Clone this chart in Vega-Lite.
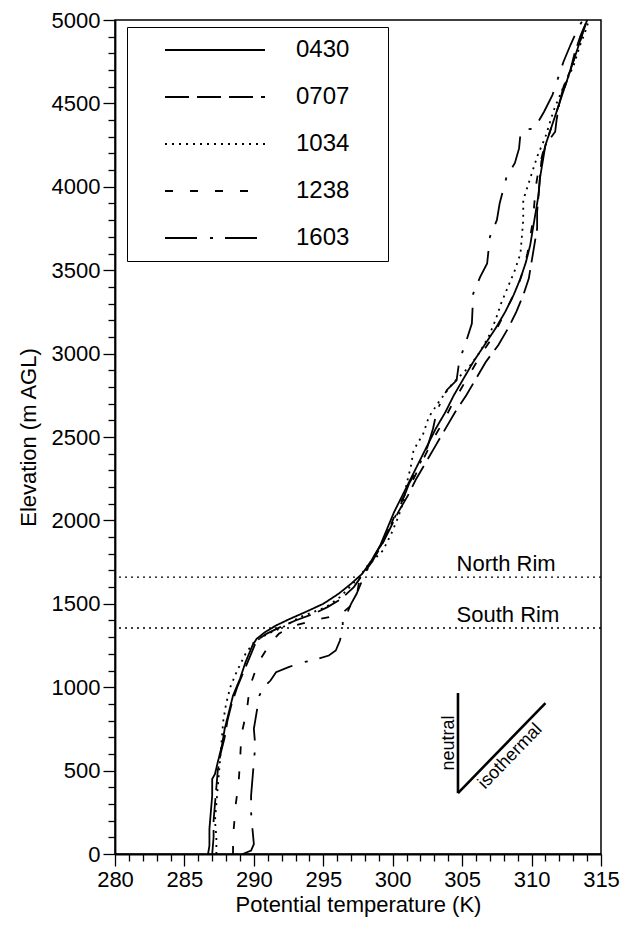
{
  "$schema": "https://vega.github.io/schema/vega-lite/v6.json",
  "width": 486,
  "height": 834,
  "autosize": {"type": "none"},
  "padding": {"left": 115, "top": 20, "right": 28, "bottom": 72},
  "background": "white",
  "config": {
    "view": {"stroke": "black", "strokeWidth": 1.5},
    "font": "Liberation Sans",
    "axis": {"domainColor": "black", "domainWidth": 1.8, "tickColor": "black", "tickWidth": 1.3, "labelColor": "black", "labelFontSize": 22, "titleFontSize": 22, "titleColor": "black", "titleFontWeight": "normal", "labelFont": "Liberation Sans", "titleFont": "Liberation Sans", "grid": false}
  },
  "datasets": {
    "profiles": [
      {"time":"0430","z":0,"T":286.7},{"time":"0430","z":50,"T":286.8},{"time":"0430","z":150,"T":286.8},{"time":"0430","z":250,"T":286.9},{"time":"0430","z":350,"T":287.0},{"time":"0430","z":450,"T":287.0},{"time":"0430","z":480,"T":287.2},{"time":"0430","z":550,"T":287.4},{"time":"0430","z":650,"T":287.7},{"time":"0430","z":750,"T":287.9},{"time":"0430","z":850,"T":288.2},{"time":"0430","z":950,"T":288.5},{"time":"0430","z":1050,"T":289.0},{"time":"0430","z":1150,"T":289.4},{"time":"0430","z":1250,"T":289.9},{"time":"0430","z":1290,"T":290.2},{"time":"0430","z":1330,"T":290.8},{"time":"0430","z":1370,"T":291.6},{"time":"0430","z":1410,"T":292.6},{"time":"0430","z":1450,"T":293.7},{"time":"0430","z":1500,"T":295.0},{"time":"0430","z":1560,"T":296.1},{"time":"0430","z":1620,"T":297.0},{"time":"0430","z":1680,"T":297.8},{"time":"0430","z":1750,"T":298.4},{"time":"0430","z":1850,"T":299.1},{"time":"0430","z":1950,"T":299.6},{"time":"0430","z":2050,"T":300.1},{"time":"0430","z":2150,"T":300.7},{"time":"0430","z":2250,"T":301.3},{"time":"0430","z":2350,"T":301.9},{"time":"0430","z":2450,"T":302.5},{"time":"0430","z":2550,"T":303.1},{"time":"0430","z":2650,"T":303.8},{"time":"0430","z":2750,"T":304.4},{"time":"0430","z":2850,"T":305.1},{"time":"0430","z":2950,"T":305.8},{"time":"0430","z":3050,"T":306.6},{"time":"0430","z":3150,"T":307.4},{"time":"0430","z":3250,"T":308.1},{"time":"0430","z":3350,"T":308.7},{"time":"0430","z":3450,"T":309.2},{"time":"0430","z":3550,"T":309.6},{"time":"0430","z":3650,"T":309.9},{"time":"0430","z":3750,"T":310.1},{"time":"0430","z":3850,"T":310.3},{"time":"0430","z":3950,"T":310.5},{"time":"0430","z":4050,"T":310.6},{"time":"0430","z":4150,"T":310.8},{"time":"0430","z":4250,"T":311.0},{"time":"0430","z":4350,"T":311.4},{"time":"0430","z":4450,"T":311.8},{"time":"0430","z":4550,"T":312.2},{"time":"0430","z":4650,"T":312.6},{"time":"0430","z":4750,"T":313.0},{"time":"0430","z":4850,"T":313.4},{"time":"0430","z":4950,"T":313.8},{"time":"0430","z":5000,"T":314.0},
      {"time":"0707","z":0,"T":287.0},{"time":"0707","z":100,"T":287.1},{"time":"0707","z":200,"T":287.1},{"time":"0707","z":300,"T":287.2},{"time":"0707","z":400,"T":287.3},{"time":"0707","z":500,"T":287.4},{"time":"0707","z":600,"T":287.6},{"time":"0707","z":700,"T":287.9},{"time":"0707","z":800,"T":288.1},{"time":"0707","z":900,"T":288.4},{"time":"0707","z":1000,"T":288.8},{"time":"0707","z":1100,"T":289.3},{"time":"0707","z":1200,"T":289.8},{"time":"0707","z":1280,"T":290.2},{"time":"0707","z":1320,"T":290.9},{"time":"0707","z":1360,"T":291.9},{"time":"0707","z":1400,"T":293.0},{"time":"0707","z":1440,"T":294.3},{"time":"0707","z":1480,"T":295.3},{"time":"0707","z":1530,"T":296.3},{"time":"0707","z":1600,"T":297.2},{"time":"0707","z":1660,"T":297.7},{"time":"0707","z":1750,"T":298.5},{"time":"0707","z":1850,"T":299.2},{"time":"0707","z":1950,"T":299.8},{"time":"0707","z":2050,"T":300.4},{"time":"0707","z":2150,"T":301.1},{"time":"0707","z":2250,"T":301.7},{"time":"0707","z":2350,"T":302.4},{"time":"0707","z":2450,"T":303.1},{"time":"0707","z":2550,"T":303.8},{"time":"0707","z":2650,"T":304.5},{"time":"0707","z":2750,"T":305.3},{"time":"0707","z":2850,"T":306.0},{"time":"0707","z":2950,"T":306.7},{"time":"0707","z":3050,"T":307.6},{"time":"0707","z":3150,"T":308.3},{"time":"0707","z":3250,"T":308.9},{"time":"0707","z":3350,"T":309.4},{"time":"0707","z":3450,"T":309.8},{"time":"0707","z":3550,"T":310.0},{"time":"0707","z":3650,"T":310.2},{"time":"0707","z":3750,"T":310.4},{"time":"0707","z":3850,"T":310.4},{"time":"0707","z":3950,"T":310.5},{"time":"0707","z":4050,"T":310.6},{"time":"0707","z":4150,"T":310.7},{"time":"0707","z":4250,"T":311.0},{"time":"0707","z":4330,"T":311.7},{"time":"0707","z":4400,"T":311.8},{"time":"0707","z":4500,"T":312.0},{"time":"0707","z":4600,"T":312.3},{"time":"0707","z":4700,"T":312.8},{"time":"0707","z":4800,"T":313.1},{"time":"0707","z":4900,"T":313.5},{"time":"0707","z":5000,"T":314.0},
      {"time":"1034","z":0,"T":287.3},{"time":"1034","z":100,"T":287.3},{"time":"1034","z":200,"T":287.2},{"time":"1034","z":300,"T":287.3},{"time":"1034","z":400,"T":287.4},{"time":"1034","z":500,"T":287.5},{"time":"1034","z":600,"T":287.6},{"time":"1034","z":700,"T":287.7},{"time":"1034","z":800,"T":287.8},{"time":"1034","z":900,"T":288.0},{"time":"1034","z":1000,"T":288.3},{"time":"1034","z":1100,"T":288.8},{"time":"1034","z":1200,"T":289.4},{"time":"1034","z":1270,"T":290.0},{"time":"1034","z":1320,"T":291.0},{"time":"1034","z":1360,"T":292.1},{"time":"1034","z":1420,"T":293.3},{"time":"1034","z":1480,"T":295.2},{"time":"1034","z":1540,"T":296.2},{"time":"1034","z":1600,"T":296.9},{"time":"1034","z":1660,"T":297.6},{"time":"1034","z":1720,"T":298.1},{"time":"1034","z":1820,"T":299.3},{"time":"1034","z":1920,"T":299.9},{"time":"1034","z":2020,"T":300.4},{"time":"1034","z":2120,"T":300.8},{"time":"1034","z":2220,"T":301.0},{"time":"1034","z":2320,"T":301.3},{"time":"1034","z":2420,"T":301.5},{"time":"1034","z":2520,"T":302.2},{"time":"1034","z":2620,"T":302.6},{"time":"1034","z":2720,"T":303.4},{"time":"1034","z":2820,"T":304.3},{"time":"1034","z":2920,"T":305.5},{"time":"1034","z":3000,"T":306.2},{"time":"1034","z":3100,"T":306.9},{"time":"1034","z":3200,"T":307.4},{"time":"1034","z":3300,"T":307.8},{"time":"1034","z":3400,"T":308.3},{"time":"1034","z":3500,"T":308.8},{"time":"1034","z":3600,"T":309.2},{"time":"1034","z":3700,"T":309.3},{"time":"1034","z":3800,"T":309.4},{"time":"1034","z":3920,"T":309.4},{"time":"1034","z":4050,"T":309.9},{"time":"1034","z":4180,"T":310.4},{"time":"1034","z":4300,"T":311.0},{"time":"1034","z":4460,"T":311.6},{"time":"1034","z":4600,"T":312.3},{"time":"1034","z":4720,"T":313.0},{"time":"1034","z":4850,"T":313.5},{"time":"1034","z":4960,"T":314.0},{"time":"1034","z":5000,"T":314.1},
      {"time":"1238","z":0,"T":288.5},{"time":"1238","z":100,"T":288.5},{"time":"1238","z":200,"T":288.6},{"time":"1238","z":300,"T":288.7},{"time":"1238","z":425,"T":288.9},{"time":"1238","z":550,"T":289.0},{"time":"1238","z":714,"T":289.1},{"time":"1238","z":864,"T":289.5},{"time":"1238","z":1000,"T":289.7},{"time":"1238","z":1145,"T":290.3},{"time":"1238","z":1265,"T":291.2},{"time":"1238","z":1320,"T":291.8},{"time":"1238","z":1361,"T":292.6},{"time":"1238","z":1403,"T":294.4},{"time":"1238","z":1433,"T":296.2},{"time":"1238","z":1490,"T":297.0},{"time":"1238","z":1541,"T":297.4},{"time":"1238","z":1643,"T":297.6},{"time":"1238","z":1700,"T":298.0},{"time":"1238","z":1800,"T":298.8},{"time":"1238","z":1900,"T":299.5},{"time":"1238","z":2000,"T":300.0},{"time":"1238","z":2100,"T":300.5},{"time":"1238","z":2200,"T":301.2},{"time":"1238","z":2300,"T":301.8},{"time":"1238","z":2400,"T":302.4},{"time":"1238","z":2500,"T":303.0},{"time":"1238","z":2600,"T":303.7},{"time":"1238","z":2700,"T":304.3},{"time":"1238","z":2800,"T":305.0},{"time":"1238","z":2900,"T":305.7},{"time":"1238","z":3000,"T":306.4},{"time":"1238","z":3100,"T":307.2},{"time":"1238","z":3200,"T":307.8},{"time":"1238","z":3300,"T":308.4},{"time":"1238","z":3400,"T":309.0},{"time":"1238","z":3500,"T":309.4},{"time":"1238","z":3600,"T":309.7},{"time":"1238","z":3700,"T":309.9},{"time":"1238","z":3800,"T":310.1},{"time":"1238","z":3900,"T":310.2},{"time":"1238","z":4000,"T":310.3},{"time":"1238","z":4100,"T":310.5},{"time":"1238","z":4200,"T":310.8},{"time":"1238","z":4300,"T":311.2},{"time":"1238","z":4400,"T":311.6},{"time":"1238","z":4500,"T":312.0},{"time":"1238","z":4600,"T":312.4},{"time":"1238","z":4700,"T":312.8},{"time":"1238","z":4800,"T":313.2},{"time":"1238","z":4900,"T":313.6},{"time":"1238","z":5000,"T":313.9},
      {"time":"1603","z":0,"T":289.2},{"time":"1603","z":20,"T":289.8},{"time":"1603","z":60,"T":290.0},{"time":"1603","z":150,"T":289.9},{"time":"1603","z":250,"T":289.8},{"time":"1603","z":350,"T":289.8},{"time":"1603","z":450,"T":289.9},{"time":"1603","z":550,"T":290.0},{"time":"1603","z":650,"T":290.1},{"time":"1603","z":750,"T":290.0},{"time":"1603","z":850,"T":290.2},{"time":"1603","z":950,"T":290.4},{"time":"1603","z":1000,"T":290.7},{"time":"1603","z":1040,"T":291.2},{"time":"1603","z":1090,"T":291.6},{"time":"1603","z":1120,"T":292.5},{"time":"1603","z":1145,"T":293.3},{"time":"1603","z":1165,"T":294.4},{"time":"1603","z":1190,"T":295.4},{"time":"1603","z":1220,"T":295.9},{"time":"1603","z":1280,"T":296.2},{"time":"1603","z":1350,"T":296.4},{"time":"1603","z":1400,"T":296.4},{"time":"1603","z":1440,"T":296.7},{"time":"1603","z":1500,"T":297.0},{"time":"1603","z":1560,"T":297.4},{"time":"1603","z":1660,"T":297.9},{"time":"1603","z":1760,"T":298.5},{"time":"1603","z":1860,"T":299.2},{"time":"1603","z":1960,"T":299.8},{"time":"1603","z":2060,"T":300.4},{"time":"1603","z":2160,"T":300.9},{"time":"1603","z":2224,"T":301.2},{"time":"1603","z":2330,"T":301.9},{"time":"1603","z":2440,"T":302.5},{"time":"1603","z":2550,"T":302.9},{"time":"1603","z":2662,"T":303.2},{"time":"1603","z":2782,"T":303.9},{"time":"1603","z":2840,"T":304.6},{"time":"1603","z":2960,"T":304.8},{"time":"1603","z":3050,"T":305.2},{"time":"1603","z":3180,"T":305.7},{"time":"1603","z":3360,"T":305.8},{"time":"1603","z":3460,"T":306.3},{"time":"1603","z":3540,"T":306.8},{"time":"1603","z":3700,"T":307.0},{"time":"1603","z":3800,"T":307.5},{"time":"1603","z":3900,"T":307.7},{"time":"1603","z":4060,"T":308.2},{"time":"1603","z":4143,"T":308.8},{"time":"1603","z":4230,"T":309.1},{"time":"1603","z":4320,"T":309.2},{"time":"1603","z":4341,"T":309.4},{"time":"1603","z":4350,"T":310.2},{"time":"1603","z":4450,"T":310.9},{"time":"1603","z":4550,"T":311.5},{"time":"1603","z":4650,"T":311.9},{"time":"1603","z":4750,"T":312.3},{"time":"1603","z":4850,"T":312.8},{"time":"1603","z":4960,"T":313.4},{"time":"1603","z":5000,"T":313.7}
    ],
    "rims": [{"name": "North Rim", "z": 1660}, {"name": "South Rim", "z": 1355}],
    "guides": [
      {"label": "neutral", "T": 304.7, "z": 365, "T2": 304.7, "z2": 965},
      {"label": "isothermal", "T": 304.7, "z": 365, "T2": 311.0, "z2": 905}
    ]
  },
  "layer": [
    {
      "data": {"name": "profiles"},
      "mark": {"type": "line", "color": "black", "strokeWidth": 1.8},
      "encoding": {
        "x": {"field": "T", "type": "quantitative",
          "scale": {"domain": [280, 315], "nice": false, "zero": false},
          "axis": {"title": "Potential temperature (K)", "format": "d", "tickCount": 200,
            "values": [280,281,282,283,284,285,286,287,288,289,290,291,292,293,294,295,296,297,298,299,300,301,302,303,304,305,306,307,308,309,310,311,312,313,314,315],
            "labelExpr": "datum.value % 5 === 0 ? datum.label : ''",
            "tickSize": {"condition": {"test": "datum.value % 5 === 0", "value": 12}, "value": 7},
            "labelPadding": 3, "labelOverlap": false, "labelFlush": false, "titlePadding": 4}},
        "y": {"field": "z", "type": "quantitative",
          "scale": {"domain": [0, 5000], "nice": false},
          "axis": {"title": "Elevation (m AGL)", "format": "d", "tickCount": 200,
            "values": [0,100,200,300,400,500,600,700,800,900,1000,1100,1200,1300,1400,1500,1600,1700,1800,1900,2000,2100,2200,2300,2400,2500,2600,2700,2800,2900,3000,3100,3200,3300,3400,3500,3600,3700,3800,3900,4000,4100,4200,4300,4400,4500,4600,4700,4800,4900,5000],
            "labelExpr": "datum.value % 500 === 0 ? datum.label : ''",
            "tickSize": {"condition": {"test": "datum.value % 500 === 0", "value": 12}, "value": 7},
            "labelPadding": 3, "labelOverlap": false, "labelFlush": false,
            "titleX": -87, "titleBaseline": "middle"}},
        "strokeDash": {"field": "time", "type": "nominal",
          "scale": {"domain": ["0430", "0707", "1034", "1238", "1603"], "range": [[1, 0], [24, 8], [2, 5], [8, 17], [32, 13, 3, 12]]},
          "legend": {"orient": "none", "legendX": 12, "legendY": 7, "title": "\u00a0", "titleOrient": "right", "titlePadding": 28, "titleFontSize": 10,
            "symbolType": "stroke", "symbolSize": 10000, "symbolStrokeWidth": 1.8, "symbolStrokeColor": "black",
            "clipHeight": 24, "rowPadding": 23, "labelFontSize": 24, "labelFont": "Liberation Sans", "labelColor": "black",
            "labelOffset": 30, "strokeColor": "black", "padding": 11, "symbolOffset": 26}},
        "order": {"field": "z", "type": "quantitative"}
      }
    },
    {
      "data": {"name": "rims"},
      "mark": {"type": "rule", "color": "black", "strokeDash": [2, 4], "strokeWidth": 1.3},
      "encoding": {"y": {"field": "z", "type": "quantitative"}}
    },
    {
      "data": {"name": "rims"},
      "mark": {"type": "text", "align": "left", "baseline": "alphabetic", "dy": -6, "fontSize": 22, "font": "Liberation Sans", "color": "black"},
      "encoding": {"y": {"field": "z", "type": "quantitative"}, "x": {"datum": 304.6}, "text": {"field": "name"}}
    },
    {
      "data": {"name": "guides"},
      "mark": {"type": "rule", "color": "black", "strokeWidth": 2.6},
      "encoding": {
        "x": {"field": "T", "type": "quantitative"}, "y": {"field": "z", "type": "quantitative"},
        "x2": {"field": "T2"}, "y2": {"field": "z2"}
      }
    },
    {
      "data": {"values": [{"label": "neutral"}]},
      "mark": {"type": "text", "angle": 270, "align": "center", "baseline": "alphabetic", "dy": -4, "fontSize": 18, "font": "Liberation Sans", "color": "black"},
      "encoding": {"x": {"datum": 304.7}, "y": {"datum": 665}, "text": {"field": "label"}}
    },
    {
      "data": {"values": [{"label": "isothermal"}]},
      "mark": {"type": "text", "angle": -45.8, "align": "center", "baseline": "top", "dy": 3, "fontSize": 18, "font": "Liberation Sans", "color": "black"},
      "encoding": {"x": {"datum": 307.85}, "y": {"datum": 635}, "text": {"field": "label"}}
    }
  ]
}
